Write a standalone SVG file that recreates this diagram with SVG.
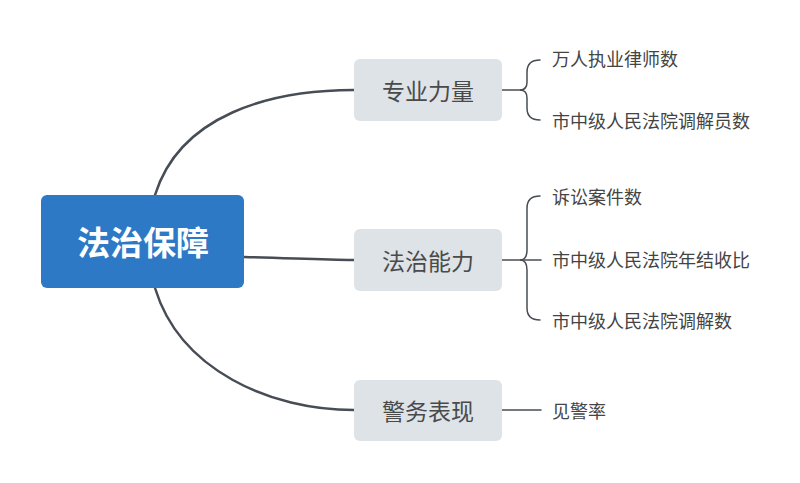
<svg xmlns="http://www.w3.org/2000/svg" width="800" height="483" viewBox="0 0 800 483">
<style>
.conn{fill:none;stroke:#474d54;stroke-width:2.5;stroke-linecap:round}
.br{fill:none;stroke:#474d54;stroke-width:1.5;stroke-linecap:round}
.sub rect{fill:#dde3e6}
.sub text{font-family:"Noto Sans CJK SC","Noto Sans",sans-serif;font-size:23px;fill:#4a4a4a;text-anchor:middle;dominant-baseline:central}
.leaf{font-family:"Noto Sans CJK SC","Noto Sans",sans-serif;font-size:18px;fill:#444;dominant-baseline:central}
</style>
<rect width="800" height="483" fill="#fff"/>
<g id="connectors">
<path class="conn" d="M155,195 C180,115 270,90 354,90"/>
<path class="conn" d="M244,257 C290,258 320,260 354,260"/>
<path class="conn" d="M155,288 C180,370 270,410 354,410"/>
<path class="br" d="M502,90 H522"/>
<path class="br" d="M540,60 Q527,60 527,72 V82 Q527,90 520,90 Q527,90 527,98 V108 Q527,120 540,120"/>
<path class="br" d="M502,260 H541"/>
<path class="br" d="M540,196 Q527,196 527,208 V250 Q527,260 520,260 Q527,260 527,270 V308 Q527,320 540,320"/>
<path class="br" d="M502,410 H541"/>
</g>
<g id="root">
<rect x="41" y="195" width="203" height="93" rx="6" fill="#2d79c5"/>
<text x="143" y="241" font-family="Noto Sans CJK SC,Noto Sans,sans-serif" font-size="33" font-weight="bold" fill="#fff" text-anchor="middle" dominant-baseline="central">法治保障</text>
</g>
<g id="n1" class="sub"><rect x="354" y="59" width="148" height="62" rx="6"/><text x="428" y="90">专业力量</text></g>
<g id="n2" class="sub"><rect x="354" y="229" width="148" height="62" rx="6"/><text x="428" y="260">法治能力</text></g>
<g id="n3" class="sub"><rect x="354" y="380" width="148" height="61" rx="6"/><text x="428" y="410">警务表现</text></g>
<g id="l1"><text class="leaf" x="552" y="58">万人执业律师数</text></g>
<g id="l2"><text class="leaf" x="552" y="120">市中级人民法院调解员数</text></g>
<g id="l3"><text class="leaf" x="552" y="196">诉讼案件数</text></g>
<g id="l4"><text class="leaf" x="552" y="259">市中级人民法院年结收比</text></g>
<g id="l5"><text class="leaf" x="552" y="320">市中级人民法院调解数</text></g>
<g id="l6"><text class="leaf" x="552" y="410">见警率</text></g>
</svg>
